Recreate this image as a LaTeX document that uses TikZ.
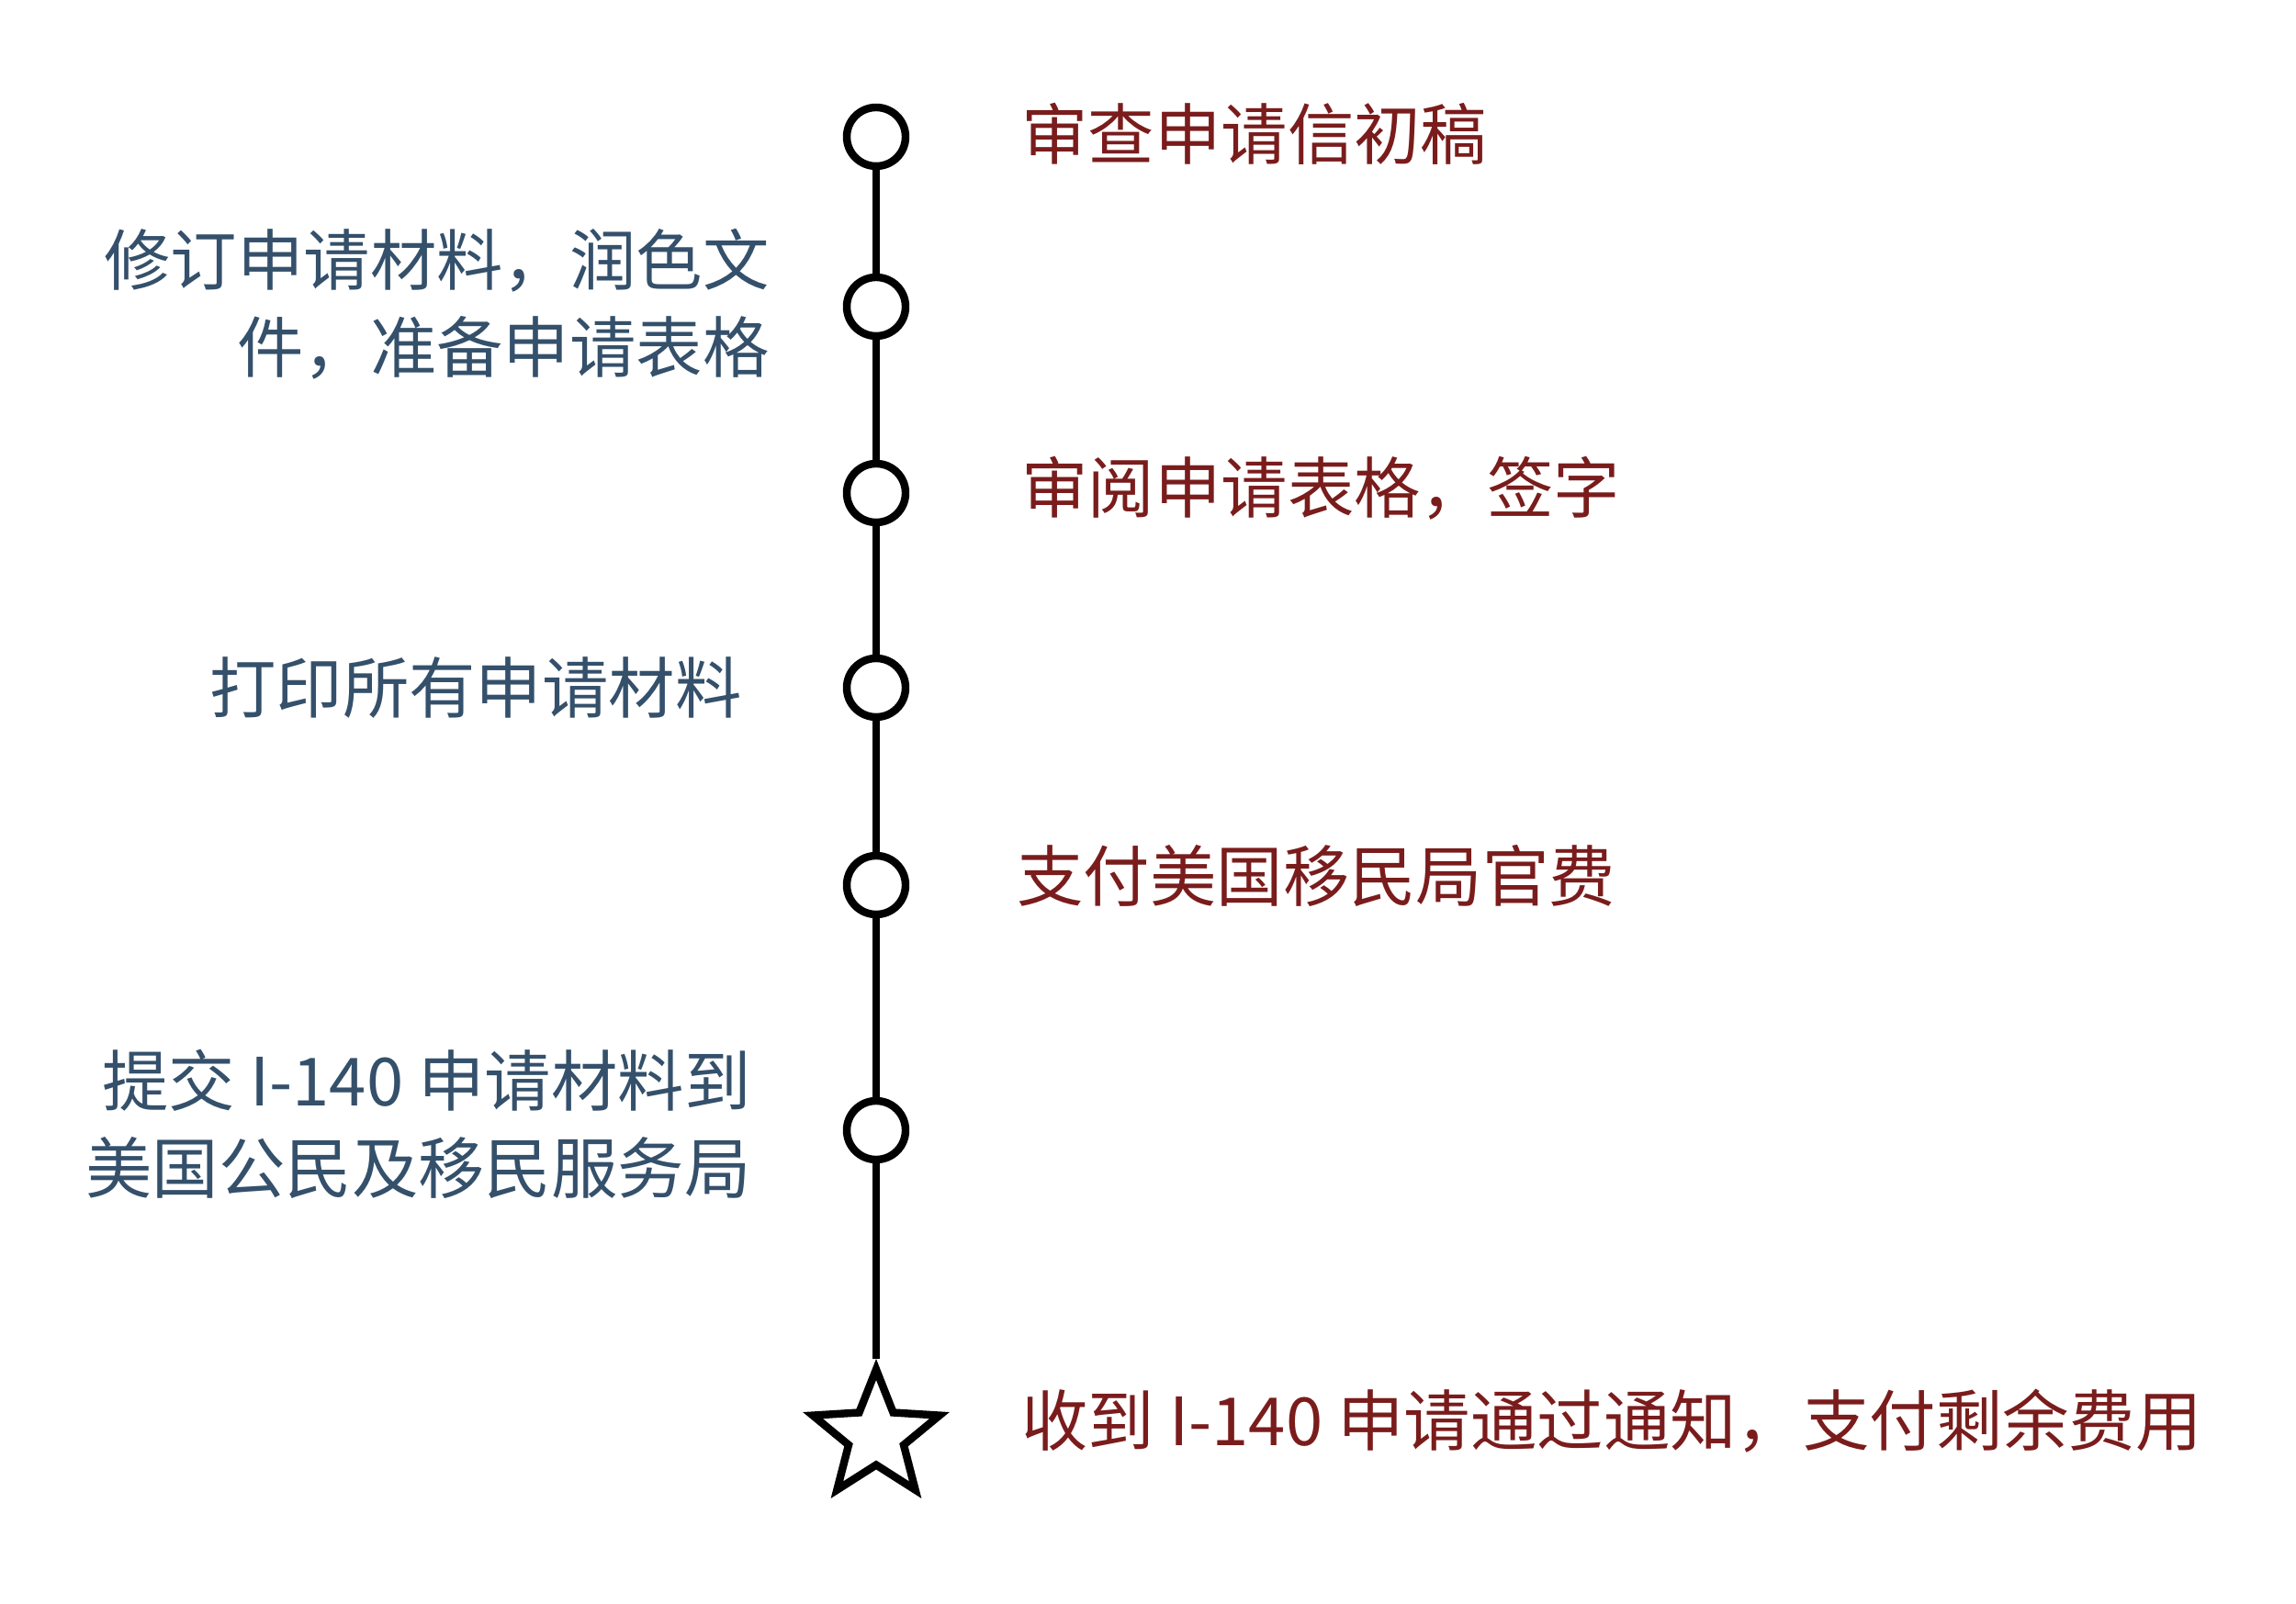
\documentclass[tikz,border=0pt]{standalone}
\usepackage{fontspec}
\newfontfamily\cjk{Noto Sans CJK SC}
\usetikzlibrary{shapes.geometric, positioning}
\definecolor{stepred}{HTML}{7A1C1C}
\definecolor{stepblue}{HTML}{34506B}

\begin{document}
\begin{tikzpicture}[
    dot/.style={draw, circle, line width=2.4pt, minimum size=0.64cm, inner sep=0pt, fill=white},
    goal/.style={draw, star, star points=5, star point ratio=2.3, line width=2.4pt, minimum size=1.45cm, inner sep=0pt, fill=white},
    rlabel/.style={anchor=west, text=stepred, font=\cjk\fontsize{20.6}{28}\selectfont},
    llabel/.style={anchor=east, align=right, text=stepblue, font=\cjk\fontsize{20.6}{27}\selectfont}
]
    \useasboundingbox (0,0) rectangle (25,17.46);

    % Nodes
    \node[dot] (s1) at (9.54,15.97) {};
    \node[dot] (s2) at (9.54,14.12) {};
    \node[dot] (s3) at (9.54,12.09) {};
    \node[dot] (s4) at (9.54,9.97) {};
    \node[dot] (s5) at (9.54,7.82) {};
    \node[dot] (s6) at (9.54,5.15) {};
    \node[goal] (s7) at (9.54,1.82) {};

    % Line
    \foreach \a/\b in {s1/s2, s2/s3, s3/s4, s4/s5, s5/s6, s6/s7}
        \draw[line width=2.4pt] (\a) -- (\b);

    % Labels
    \node[rlabel] (t1) at (11.0,16.0) {审查申请信初稿};
    \node[llabel] (t2) at (8.5,14.15) {修订申请材料，润色文\\件，准备申请表格};
    \node[rlabel] (t3) at (11.0,12.14) {审阅申请表格，签字};
    \node[llabel] (t4) at (8.2,9.97) {打印所有申请材料};
    \node[rlabel] (t5) at (10.95,7.92) {支付美国移民局官费};
    \node[llabel] (t6) at (8.3,5.22) {提交 I-140 申请材料到\\美国公民及移民服务局};
    \node[rlabel] (t7) at (11.0,1.98) {收到 I-140 申请通过通知，支付剩余费用};
\end{tikzpicture}
\end{document}
